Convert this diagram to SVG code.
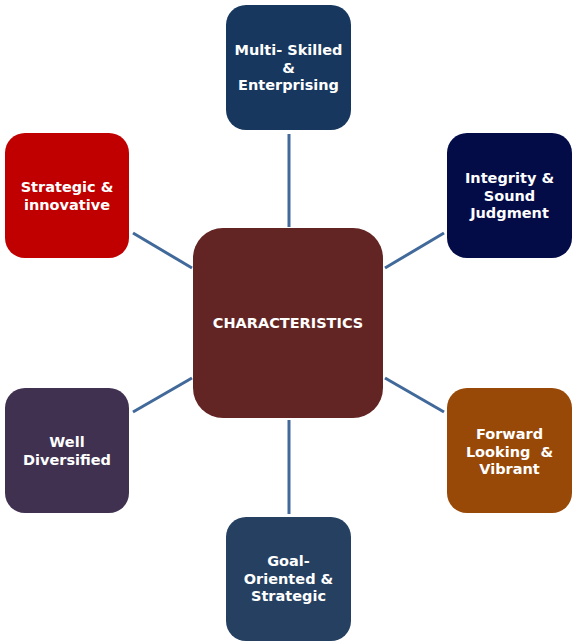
<svg xmlns="http://www.w3.org/2000/svg" width="572" height="643" viewBox="0 0 572 643">
<style>
.box{stroke:none}
.t{font-family:"DejaVu Sans","Liberation Sans",sans-serif;font-weight:bold;font-size:14.5px;fill:#ffffff;text-anchor:middle;dominant-baseline:central;white-space:pre}
.c{stroke:#41699A;stroke-width:3;fill:none}
</style>
<rect width="572" height="643" fill="#ffffff"/>
<g id="connectors">
<line class="c" x1="289" y1="134" x2="289" y2="227"/>
<line class="c" x1="385" y1="268" x2="444" y2="233"/>
<line class="c" x1="133" y1="233" x2="192" y2="268"/>
<line class="c" x1="133" y1="412" x2="192" y2="378"/>
<line class="c" x1="385" y1="378" x2="444" y2="412"/>
<line class="c" x1="289" y1="420" x2="289" y2="514"/>
</g>
<g id="center">
<rect class="box" x="193" y="228" width="190" height="190" rx="30" fill="#632523"/>
<text class="t" x="288" y="323">CHARACTERISTICS</text>
</g>
<g id="multi">
<rect class="box" x="226" y="5" width="125" height="125" rx="20" fill="#17375E"/>
<text class="t" x="288.5" y="50">Multi- Skilled</text>
<text class="t" x="288.5" y="67.5">&amp;</text>
<text class="t" x="288.5" y="85">Enterprising</text>
</g>
<g id="integrity">
<rect class="box" x="447" y="133" width="125" height="125" rx="20" fill="#040C48"/>
<text class="t" x="509.5" y="178">Integrity &amp;</text>
<text class="t" x="509.5" y="195.5">Sound</text>
<text class="t" x="509.5" y="213">Judgment</text>
</g>
<g id="strategic">
<rect class="box" x="5" y="133" width="124" height="125" rx="20" fill="#C00000"/>
<text class="t" x="67" y="187">Strategic &amp;</text>
<text class="t" x="67" y="204.5">innovative</text>
</g>
<g id="well">
<rect class="box" x="5" y="388" width="124" height="125" rx="20" fill="#403151"/>
<text class="t" x="67" y="442">Well</text>
<text class="t" x="67" y="459.5">Diversified</text>
</g>
<g id="forward">
<rect class="box" x="447" y="388" width="125" height="125" rx="20" fill="#984807"/>
<text class="t" x="509.5" y="434">Forward</text>
<text class="t" x="509.5" y="451.5" xml:space="preserve">Looking  &amp;</text>
<text class="t" x="509.5" y="469">Vibrant</text>
</g>
<g id="goal">
<rect class="box" x="226" y="517" width="125" height="124" rx="20" fill="#254061"/>
<text class="t" x="288.5" y="561">Goal-</text>
<text class="t" x="288.5" y="578.5">Oriented &amp;</text>
<text class="t" x="288.5" y="596">Strategic</text>
</g>
</svg>
